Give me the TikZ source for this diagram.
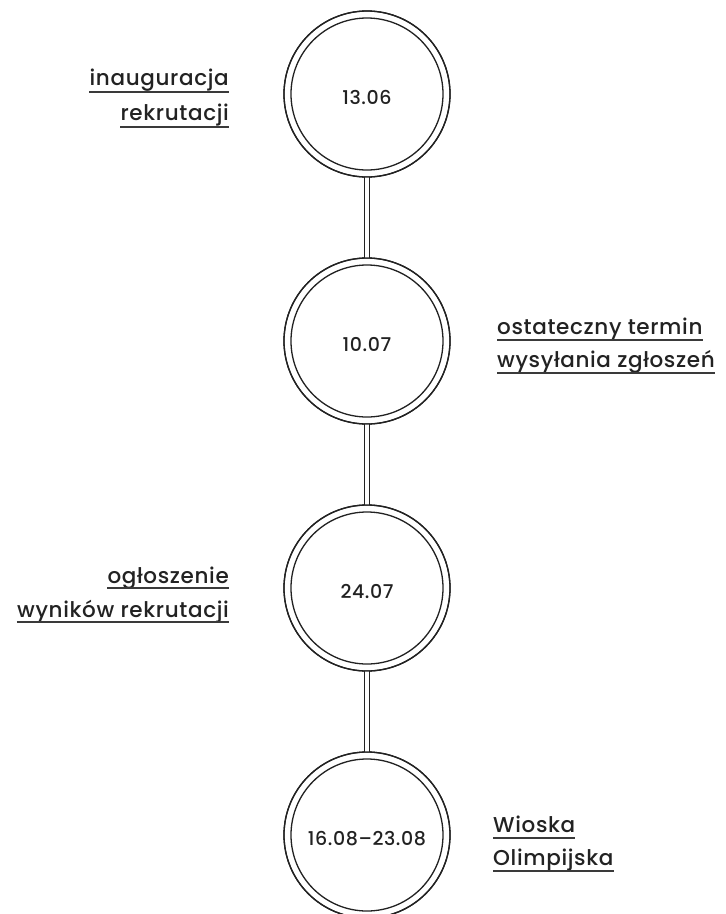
\documentclass[tikz,border=0pt]{standalone}
\usepackage{fontspec}
\setmainfont{Poppins}[UprightFont={* Medium}, LetterSpace=3]
\definecolor{ink}{HTML}{222222}
\definecolor{uline}{HTML}{3A3A3A}
\begin{document}
\begin{tikzpicture}[x=1pt,y=-1pt,
  ring/.style={circle, draw=ink, line width=1.3pt, minimum size=166pt, inner sep=0pt, outer sep=0pt},
  date/.style={font=\fontsize{19}{21}\selectfont, text=ink, inner sep=0pt, anchor=base},
  lbl/.style={font=\fontsize{21.5}{24}\selectfont, text=ink, inner sep=0pt},
  ul/.style={draw=uline, line width=1.4pt},
  link/.style={draw=ink, line width=1pt, double=white, double distance=4pt}
]
\useasboundingbox (0,0) rectangle (726,914);
\fill[white] (0,0) rectangle (726,914);

% circles
\node[ring] (c1) at (367,94) {};
\node[ring] (c2) at (367,341) {};
\node[ring] (c3) at (367,588) {};
\node[ring] (c4) at (367,835) {};

% connectors
\draw[link] (c1.south) -- (c2.north);
\draw[link] (c2.south) -- (c3.north);
\draw[link] (c3.south) -- (c4.north);

\foreach \c in {c1,c2,c3,c4}{
  \draw[ink, line width=1.3pt] (\c.center) circle[radius=83];
  \draw[ink, line width=1.3pt] (\c.center) circle[radius=76];
}

% dates
\node[date] (d1) at (367,104) {13.06};
\node[date] (d2) at (367,351) {10.07};
\node[date] (d3) at (367,598) {24.07};
\node[date] (d4) at (367,845) {16.08–23.08};

% labels
\node[lbl, anchor=base east] (a1) at (229,85) {inauguracja};
\node[lbl, anchor=base east] (a2) at (229,120) {rekrutacji};
\draw[ul] ([yshift=-7pt]a1.base west) -- ([yshift=-7pt]a1.base east);
\draw[ul] ([yshift=-7pt]a2.base west) -- ([yshift=-7pt]a2.base east);

\node[lbl, anchor=base west] (b1) at (497,334) {ostateczny termin\ };
\node[lbl, anchor=base west] (b2) at (497,367) {wysyłania zgłoszeń};
\draw[ul] ([yshift=-6pt]b1.base west) -- ([yshift=-6pt]b1.base east);
\draw[ul] ([yshift=-6pt]b2.base west) -- ([yshift=-6pt]b2.base east);

\node[lbl, anchor=base east] (e1) at (229,583) {ogłoszenie};
\node[lbl, anchor=base east] (e2) at (229,617) {wyników rekrutacji};
\draw[ul] ([yshift=-5pt]e1.base west) -- ([yshift=-5pt]e1.base east);
\draw[ul] ([yshift=-5pt]e2.base west) -- ([yshift=-5pt]e2.base east);

\node[lbl, anchor=base west] (f1) at (493,832) {Wioska};
\node[lbl, anchor=base west] (f2) at (493,865) {Olimpijska};
\draw[ul] ([yshift=-6pt]f1.base west) -- ([yshift=-6pt]f1.base east);
\draw[ul] ([yshift=-6pt]f2.base west) -- ([yshift=-6pt]f2.base east);
\end{tikzpicture}
\end{document}
